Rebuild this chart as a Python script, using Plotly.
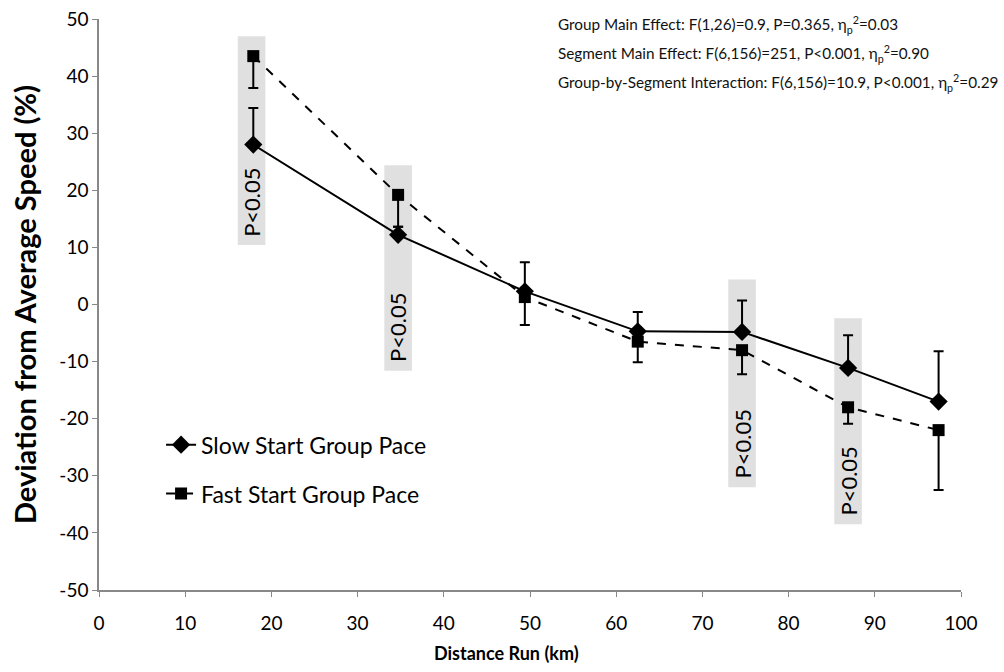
import plotly.graph_objects as go

# distance (km) of each segment point
distance = [17.9, 34.7, 49.4, 62.5, 74.6, 86.9, 97.4]

slow_pace = [28, 12.2, 2.3, -4.7, -4.8, -11.1, -17.0]
slow_err_up = [6.4, 1.4, 5.1, 3.4, 5.5, 5.7, 8.8]

fast_pace = [43.5, 19.2, 1.3, -6.5, -8.0, -18.0, -22.0]
fast_err_down = [5.6, 5.6, 4.9, 3.6, 4.2, 2.9, 10.5]

# segments with a significant group difference (centre km, band top, band bottom)
sig_x = [17.7, 34.7, 74.6, 86.9]
sig_top = [47.0, 24.4, 4.4, -2.4]
sig_bottom = [10.4, -11.6, -32.0, -38.5]
sig_label = "P<0.05"

stats_lines = [
    "Group Main Effect: F(1,26)=0.9, P=0.365, η<sub>p</sub><sup>2</sup>=0.03",
    "Segment Main Effect: F(6,156)=251, P<0.001, η<sub>p</sub><sup>2</sup>=0.90",
    "Group-by-Segment Interaction: F(6,156)=10.9, P<0.001, η<sub>p</sub><sup>2</sup>=0.29",
]
stats_y = [49.1, 43.9, 38.9]

y_ticks = list(range(-50, 51, 10))
y_tick_text = [str(v) for v in y_ticks]
x_ticks = list(range(0, 101, 10))
x_tick_text = [str(v) for v in x_ticks]

FONT = "Lato, Carlito, Calibri, sans-serif"
BLACK = "#000000"
AXIS_GRAY = "#888888"
BAND_GRAY = "#e0e0e0"

fig = go.Figure()

fig.add_trace(go.Scatter(
    x=distance,
    y=slow_pace,
    mode="lines+markers",
    name="Slow Start Group Pace",
    legendgroup="slow",
    line=dict(color=BLACK, width=2),
    marker=dict(symbol="diamond", size=14, color=BLACK),
    error_y=dict(
        type="data", symmetric=False, array=slow_err_up,
        arrayminus=[0] * len(slow_err_up),
        color=BLACK, thickness=2, width=5,
    ),
))

fig.add_trace(go.Scatter(
    x=distance,
    y=fast_pace,
    mode="lines+markers",
    name="Fast Start Group Pace",
    legendgroup="fast",
    line=dict(color=BLACK, width=2, dash="dash"),
    marker=dict(symbol="square", size=12, color=BLACK),
    error_y=dict(
        type="data", symmetric=False, array=[0] * len(fast_err_down),
        arrayminus=fast_err_down,
        color=BLACK, thickness=2, width=5,
    ),
))

# gray significance bands with rotated labels
half_w = 1.6
for cx, top, bottom in zip(sig_x, sig_top, sig_bottom):
    fig.add_shape(
        type="rect", xref="x", yref="y",
        x0=cx - half_w, x1=cx + half_w, y0=bottom, y1=top,
        fillcolor=BAND_GRAY, line=dict(width=0), layer="below",
    )
    fig.add_annotation(
        x=cx, y=bottom + 7.5, xref="x", yref="y",
        text=sig_label, textangle=-90, showarrow=False,
        font=dict(family=FONT, size=22, color=BLACK),
    )

for line, ly in zip(stats_lines, stats_y):
    fig.add_annotation(
        x=53.0, y=ly, xref="x", yref="y",
        xanchor="left", yanchor="middle", align="left",
        text=line, showarrow=False,
        font=dict(family=FONT, size=15.3, color="#111111"),
    )

# x axis title sits a little left of the plot centre, as in the original
fig.add_annotation(
    x=0.473, y=-0.111, xref="paper", yref="paper",
    xanchor="center", yanchor="middle",
    text="<b>Distance Run (km)</b>", showarrow=False,
    font=dict(family=FONT, size=18, color=BLACK),
)

fig.update_layout(
    width=1004,
    height=672,
    margin=dict(l=99, r=43, t=7, b=82),
    paper_bgcolor="white",
    plot_bgcolor="white",
    font=dict(family=FONT, color=BLACK, size=17),
    showlegend=True,
    legend=dict(
        x=0.072, y=0.292, xanchor="left", yanchor="top",
        bgcolor="rgba(0,0,0,0)",
        font=dict(family=FONT, size=23, color=BLACK),
        tracegroupgap=16,
        itemwidth=30,
    ),
    xaxis=dict(
        range=[0, 100],
        tickvals=x_ticks,
        ticktext=x_tick_text,
        showgrid=False,
        zeroline=False,
        showline=True,
        linecolor=AXIS_GRAY,
        linewidth=1.5,
        ticks="outside",
        ticklen=5,
        tickcolor=AXIS_GRAY,
        ticklabelstandoff=10,
        tickfont=dict(family=FONT, size=19, color=BLACK),
    ),
    yaxis=dict(
        range=[-50, 50],
        tickvals=y_ticks,
        ticktext=y_tick_text,
        showgrid=False,
        zeroline=False,
        showline=True,
        linecolor=AXIS_GRAY,
        linewidth=1.5,
        ticks="outside",
        ticklen=5,
        tickcolor=AXIS_GRAY,
        ticklabeloverflow="allow",
        tickfont=dict(family=FONT, size=19, color=BLACK),
        title=dict(text="<b>Deviation from Average Speed (%)</b>", font=dict(family=FONT, size=29), standoff=14),
    ),
)

fig.write_html(
    "out.html",
    config={"displayModeBar": False},
    post_script="document.body.style.margin='0';",
)
